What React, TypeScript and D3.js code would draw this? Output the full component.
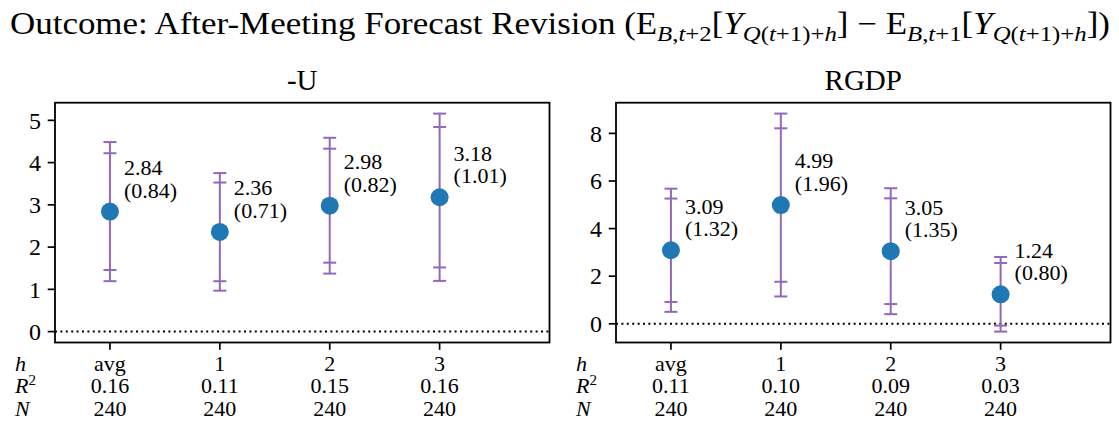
import React from 'react';
import * as d3 from 'd3';

const horizons = ['avg', '1', '2', '3'];
const uCoef = [2.84, 2.36, 2.98, 3.18];
const uSE = [0.84, 0.71, 0.82, 1.01];
const uR2 = ['0.16', '0.11', '0.15', '0.16'];
const uN = ['240', '240', '240', '240'];
const gCoef = [3.09, 4.99, 3.05, 1.24];
const gSE = [1.32, 1.96, 1.35, 0.8];
const gR2 = ['0.11', '0.10', '0.09', '0.03'];
const gN = ['240', '240', '240', '240'];
const uTicks = [0, 1, 2, 3, 4, 5];
const gTicks = [0, 2, 4, 6, 8];
const Z95 = 1.96;
const Z90 = 1.645;

const FONT = "'Liberation Serif', 'DejaVu Serif', serif";
const PURPLE = '#9467bd';
const BLUE = '#1f77b4';

const TOP = 102.7;
const BOTTOM = 342.5;
const W = 494.5;

type PanelProps = {
  left: number;
  title: string;
  coef: number[];
  se: number[];
  r2: string[];
  n: string[];
  ticks: number[];
};

function Panel({ left, title, coef, se, r2, n, ticks }: PanelProps) {
  const lows = coef.map((c, i) => c - Z95 * se[i]);
  const highs = coef.map((c, i) => c + Z95 * se[i]);
  const lo = Math.min(0, d3.min(lows) as number);
  const hi = d3.max(highs) as number;
  const pad = (hi - lo) * 0.05;
  const x = d3.scaleLinear().domain([-0.5, 4]).range([left, left + W]);
  const y = d3.scaleLinear().domain([lo - pad, hi + pad]).range([BOTTOM, TOP]);
  const cap = 6.5;
  const rowY = [370.5, 393.3, 415.5];
  const labX = left - 40;
  const fs = 22;
  return (
    <g>
      <text x={left + W / 2} y={90} textAnchor="middle" fontSize={29} fontFamily={FONT}>{title}</text>
      <line x1={x(-0.5)} x2={x(4)} y1={y(0)} y2={y(0)} stroke="#000" strokeWidth={2} strokeDasharray="2,3.4" />
      {coef.map((c, i) => {
        const cx = x(i);
        const b95 = [c - Z95 * se[i], c + Z95 * se[i]];
        const b90 = [c - Z90 * se[i], c + Z90 * se[i]];
        return (
          <g key={i}>
            <line x1={cx} x2={cx} y1={y(b95[0])} y2={y(b95[1])} stroke={PURPLE} strokeWidth={2} />
            {[...b95, ...b90].map((v, j) => (
              <line key={j} x1={cx - cap} x2={cx + cap} y1={y(v)} y2={y(v)} stroke={PURPLE} strokeWidth={2} />
            ))}
            <circle cx={cx} cy={y(c)} r={9} fill={BLUE} />
            <text x={cx + 14} y={y(c) - 36.7} fontSize={fs} fontFamily={FONT}>{c.toFixed(2)}</text>
            <text x={cx + 14} y={y(c) - 14} fontSize={fs} fontFamily={FONT}>({se[i].toFixed(2)})</text>
          </g>
        );
      })}
      <rect x={left} y={TOP} width={W} height={BOTTOM - TOP} fill="none" stroke="#000" strokeWidth={1.8} />
      {ticks.map((t) => (
        <g key={t}>
          <line x1={left - 7.3} x2={left} y1={y(t)} y2={y(t)} stroke="#000" strokeWidth={1.7} />
          <text x={left - 14} y={y(t)} dy="0.34em" textAnchor="end" fontSize={24} fontFamily={FONT}>{t}</text>
        </g>
      ))}
      {horizons.map((h, i) => (
        <g key={h}>
          <line x1={x(i)} x2={x(i)} y1={BOTTOM} y2={BOTTOM + 7.3} stroke="#000" strokeWidth={1.7} />
          <text x={x(i)} y={rowY[0]} textAnchor="middle" fontSize={fs} fontFamily={FONT}>{h}</text>
          <text x={x(i)} y={rowY[1]} textAnchor="middle" fontSize={fs} fontFamily={FONT}>{r2[i]}</text>
          <text x={x(i)} y={rowY[2]} textAnchor="middle" fontSize={fs} fontFamily={FONT}>{n[i]}</text>
        </g>
      ))}
      <text x={labX} y={rowY[0]} fontSize={fs} fontFamily={FONT} fontStyle="italic">h</text>
      <text x={labX} y={rowY[1]} fontSize={fs} fontFamily={FONT}>
        <tspan fontStyle="italic">R</tspan>
        <tspan fontSize={15} dy={-8}>2</tspan>
      </text>
      <text x={labX} y={rowY[2]} fontSize={fs} fontFamily={FONT} fontStyle="italic">N</text>
    </g>
  );
}

function Sub({ parts }: { parts: [string, boolean][] }) {
  return (
    <>
      {parts.map(([s, it], k) => (
        <tspan key={k} fontStyle={it ? 'italic' : 'normal'}>{s}</tspan>
      ))}
    </>
  );
}

export default function App() {
  const fs = 31;
  const sfs = 22;
  const sub1: [string, boolean][] = [['B', true], [',', false], ['t', true], ['+2', false]];
  const sub2: [string, boolean][] = [['B', true], [',', false], ['t', true], ['+1', false]];
  const subY: [string, boolean][] = [['Q', true], ['(', false], ['t', true], ['+1)+', false], ['h', true]];
  return (
    <svg width={1119} height={425} style={{ position: 'absolute', left: 0, top: 0, display: 'block', background: '#fff' }}>
      <text x={10} y={34} textLength={1100} lengthAdjust="spacingAndGlyphs" fontSize={fs} fontFamily={FONT}>
        <tspan>Outcome: After-Meeting Forecast Revision (E</tspan>
        <tspan fontSize={sfs} dy={7}><Sub parts={sub1} /></tspan>
        <tspan dy={-7}>[</tspan>
        <tspan fontStyle="italic">Y</tspan>
        <tspan fontSize={sfs} dy={7}><Sub parts={subY} /></tspan>
        <tspan dy={-7}>] − E</tspan>
        <tspan fontSize={sfs} dy={7}><Sub parts={sub2} /></tspan>
        <tspan dy={-7}>[</tspan>
        <tspan fontStyle="italic">Y</tspan>
        <tspan fontSize={sfs} dy={7}><Sub parts={subY} /></tspan>
        <tspan dy={-7}>])</tspan>
      </text>
      <Panel left={55} title="-U" coef={uCoef} se={uSE} r2={uR2} n={uN} ticks={uTicks} />
      <Panel left={616} title="RGDP" coef={gCoef} se={gSE} r2={gR2} n={gN} ticks={gTicks} />
    </svg>
  );
}
